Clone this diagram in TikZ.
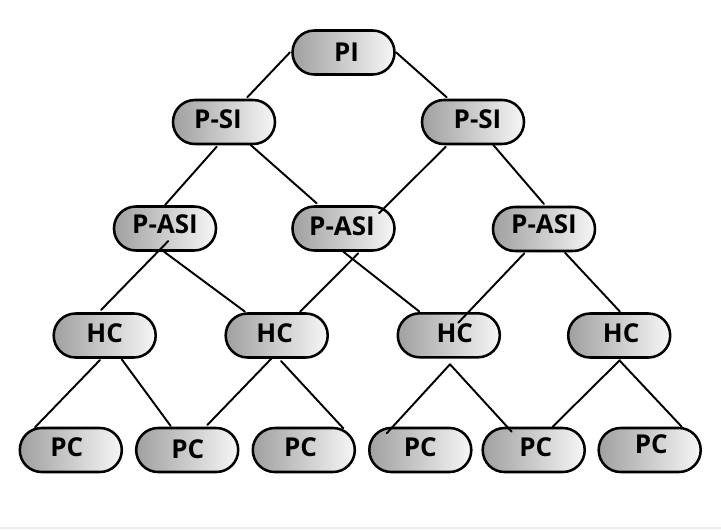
\documentclass[tikz,border=0pt]{standalone}
\usepackage{fontspec}
\setmainfont{Open Sans}
\usetikzlibrary{calc}
\definecolor{shadeL}{RGB}{160,160,160}
\definecolor{shadeR}{RGB}{246,246,246}
\definecolor{stripc}{RGB}{237,237,241}
\newcommand\tx[3]{\raisebox{\dimexpr #2pt*3/4\relax}{\makebox[0pt]{\hspace*{\dimexpr #1pt*3/2\relax}#3}}}
\tikzset{
  pill/.style={draw=black, line width=1.9pt, rectangle, rounded corners=16.4pt,
    minimum width=76.5pt, minimum height=33pt, inner sep=0pt,
    left color=shadeL, right color=shadeR,
    font=\fontsize{19.5}{22}\selectfont\bfseries,
    text height=10.2pt, text depth=0pt, anchor=center},
  link/.style={draw=black, line width=1.45pt, line cap=round}
}
\begin{document}
\begin{tikzpicture}[x=0.75pt,y=-0.75pt]
\useasboundingbox (0,0) rectangle (721,529);
\fill[stripc] (0,526.5) rectangle (721,529);
% nodes
\node[pill] (PI)  at (343.5,52.5) {\tx{3}{-2}{PI}};
\node[pill] (PSL) at (224,122)    {\tx{-6}{0.5}{P-SI}};
\node[pill] (PSR) at (473,122)    {\tx{4.5}{0}{P-SI}};
\node[pill] (PAL) at (165,228.5)  {\tx{0}{1.5}{P-ASI}};
\node[pill] (PAM) at (343.5,228.5){\tx{-1.5}{-0.5}{P-ASI}};
\node[pill] (PAR) at (544,229)    {\tx{0}{2}{P-ASI}};
\node[pill] (HC1) at (104.7,335.5){\tx{0}{-0.5}{HC}};
\node[pill] (HC2) at (276.7,335.5){\tx{-2}{-0.5}{HC}};
\node[pill] (HC3) at (448.8,335.3){\tx{6}{-0.5}{HC}};
\node[pill] (HC4) at (619.2,335.5){\tx{2}{0}{HC}};
\node[pill] (PC1) at (70.8,450)   {\tx{-4}{0}{PC}};
\node[pill] (PC2) at (187.2,450)  {\tx{0.5}{-1.7}{PC}};
\node[pill] (PC3) at (303.8,450)  {\tx{-3.3}{0}{PC}};
\node[pill] (PC4) at (420.3,450)  {\tx{0}{0}{PC}};
\node[pill] (PC5) at (533.7,450)  {\tx{2}{0}{PC}};
\node[pill] (PC6) at (649.7,450)  {\tx{1.5}{3.3}{PC}};
% connectors
\draw[link] ($(PI)+(-53.5,-0.2)$) -- ($(PSL)+(23.3,-24.7)$);
\draw[link] ($(PI)+(52.5,-0.2)$) -- ($(PSR)+(-26.3,-24.7)$);
\draw[link] ($(PSL)+(-7.3,24.7)$) -- ($(PAL)+(0,-23.5)$);
\draw[link] ($(PSL)+(26.7,23)$) -- ($(PAM)+(-26.8,-25.2)$);
\draw[link] ($(PSR)+(-27.3,24.7)$) -- ($(PAM)+(35.5,-15.2)$);
\draw[link] ($(PSR)+(20.3,23)$) -- ($(PAR)+(0,-25)$);
\draw[link] ($(PAL)+(3.3,12.5)$) -- ($(HC1)+(-3.7,-25.5)$);
\draw[link] ($(PAL)+(-1,23.2)$) -- ($(HC2)+(-31.7,-23.8)$);
\draw[link] ($(PAM)+(14.8,24.8)$) -- ($(HC2)+(23.3,-23.8)$);
\draw[link] ($(PAM)+(-0.2,23.2)$) -- ($(HC3)+(-29.5,-23.8)$);
\draw[link] ($(PAR)+(-19.7,24.3)$) -- ($(HC3)+(9.5,-12.6)$);
\draw[link] ($(PAR)+(21,23.7)$) -- ($(HC4)+(0.8,-23.8)$);
\draw[link] ($(HC1)+(-4.7,24.5)$) -- ($(PC1)+(-35.8,-22.7)$);
\draw[link] ($(HC1)+(17,23.8)$) -- ($(PC2)+(-16.5,-24)$);
\draw[link] ($(HC2)+(-5,22.8)$) -- ($(PC2)+(20.1,-25)$);
\draw[link] ($(HC2)+(4.3,25.5)$) -- ($(PC3)+(39.5,-21.7)$);
\draw[link] ($(HC3)+(1.2,29)$) -- ($(PC4)+(-33.6,-16.7)$);
\draw[link] ($(HC3)+(1.2,29)$) -- ($(PC5)+(-22,-18.3)$);
\draw[link] ($(HC4)+(0.8,24.5)$) -- ($(PC5)+(19,-23.3)$);
\draw[link] ($(HC4)+(0.8,25.5)$) -- ($(PC6)+(32,-23.3)$);
\end{tikzpicture}
\end{document}
